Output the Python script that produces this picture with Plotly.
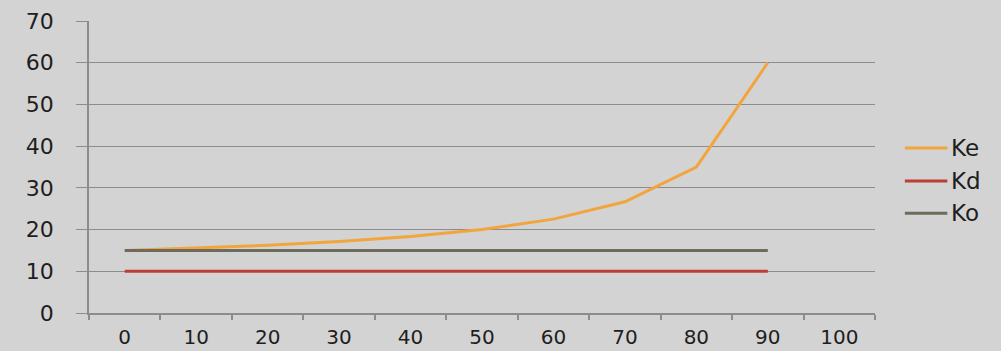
import plotly.graph_objects as go

# Debt ratio (%) categories shown on the x axis
categories = ["0", "10", "20", "30", "40", "50", "60", "70", "80", "90", "100"]
x_points = ["0", "10", "20", "30", "40", "50", "60", "70", "80", "90"]

# Cost of capital series
ke = [15, 15.56, 16.25, 17.14, 18.33, 20, 22.5, 26.67, 35, 60]
kd = [10, 10, 10, 10, 10, 10, 10, 10, 10, 10]
ko = [15, 15, 15, 15, 15, 15, 15, 15, 15, 15]

y_ticks = [0, 10, 20, 30, 40, 50, 60, 70]

series = [("Ke", ke, "#f2a53c"), ("Kd", kd, "#bb3f35"), ("Ko", ko, "#6e6a5e")]

bg = "#d3d3d3"
grid = "#8c8c8c"
font_family = "DejaVu Sans, Verdana, sans-serif"

fig = go.Figure()
for name, values, color in series:
    fig.add_trace(go.Scatter(x=x_points, y=values, name=name, mode="lines",
                             line=dict(color=color, width=3)))

# Legend drawn to the right of the plot area: short line sample + label
legend_y = [0.565, 0.452, 0.342]
for (name, _, color), ly in zip(series, legend_y):
    fig.add_shape(type="line", xref="paper", yref="paper",
                  x0=1.038, x1=1.092, y0=ly, y1=ly,
                  line=dict(color=color, width=3))
    fig.add_annotation(xref="paper", yref="paper", x=1.094, y=ly,
                       text=name, showarrow=False, xanchor="left",
                       yanchor="middle", font=dict(size=23, color="#1e1e1e"))

fig.update_layout(
    width=1001, height=351,
    margin=dict(l=89, r=126, t=21, b=38),
    paper_bgcolor=bg, plot_bgcolor=bg,
    font=dict(family=font_family, size=22, color="#1e1e1e"),
    showlegend=False,
)
fig.update_xaxes(
    type="category", categoryorder="array", categoryarray=categories,
    tickvals=categories, range=[-0.5, len(categories) - 0.5],
    tickfont=dict(size=20),
    showgrid=False, showline=True, linecolor=grid, linewidth=1.5,
    ticks="outside", tickson="boundaries", ticklen=5, tickcolor=grid,
    tickwidth=1.5, ticklabelstandoff=5, zeroline=False, automargin=False,
)
fig.update_yaxes(
    range=[0, 70], tickvals=y_ticks,
    showgrid=True, gridcolor=grid, gridwidth=1.2,
    showline=True, linecolor=grid, linewidth=1.5,
    ticks="outside", ticklen=11, tickcolor=grid, tickwidth=1.2,
    ticklabelstandoff=18, zeroline=False, automargin=False,
)

fig.write_html("out.html")
